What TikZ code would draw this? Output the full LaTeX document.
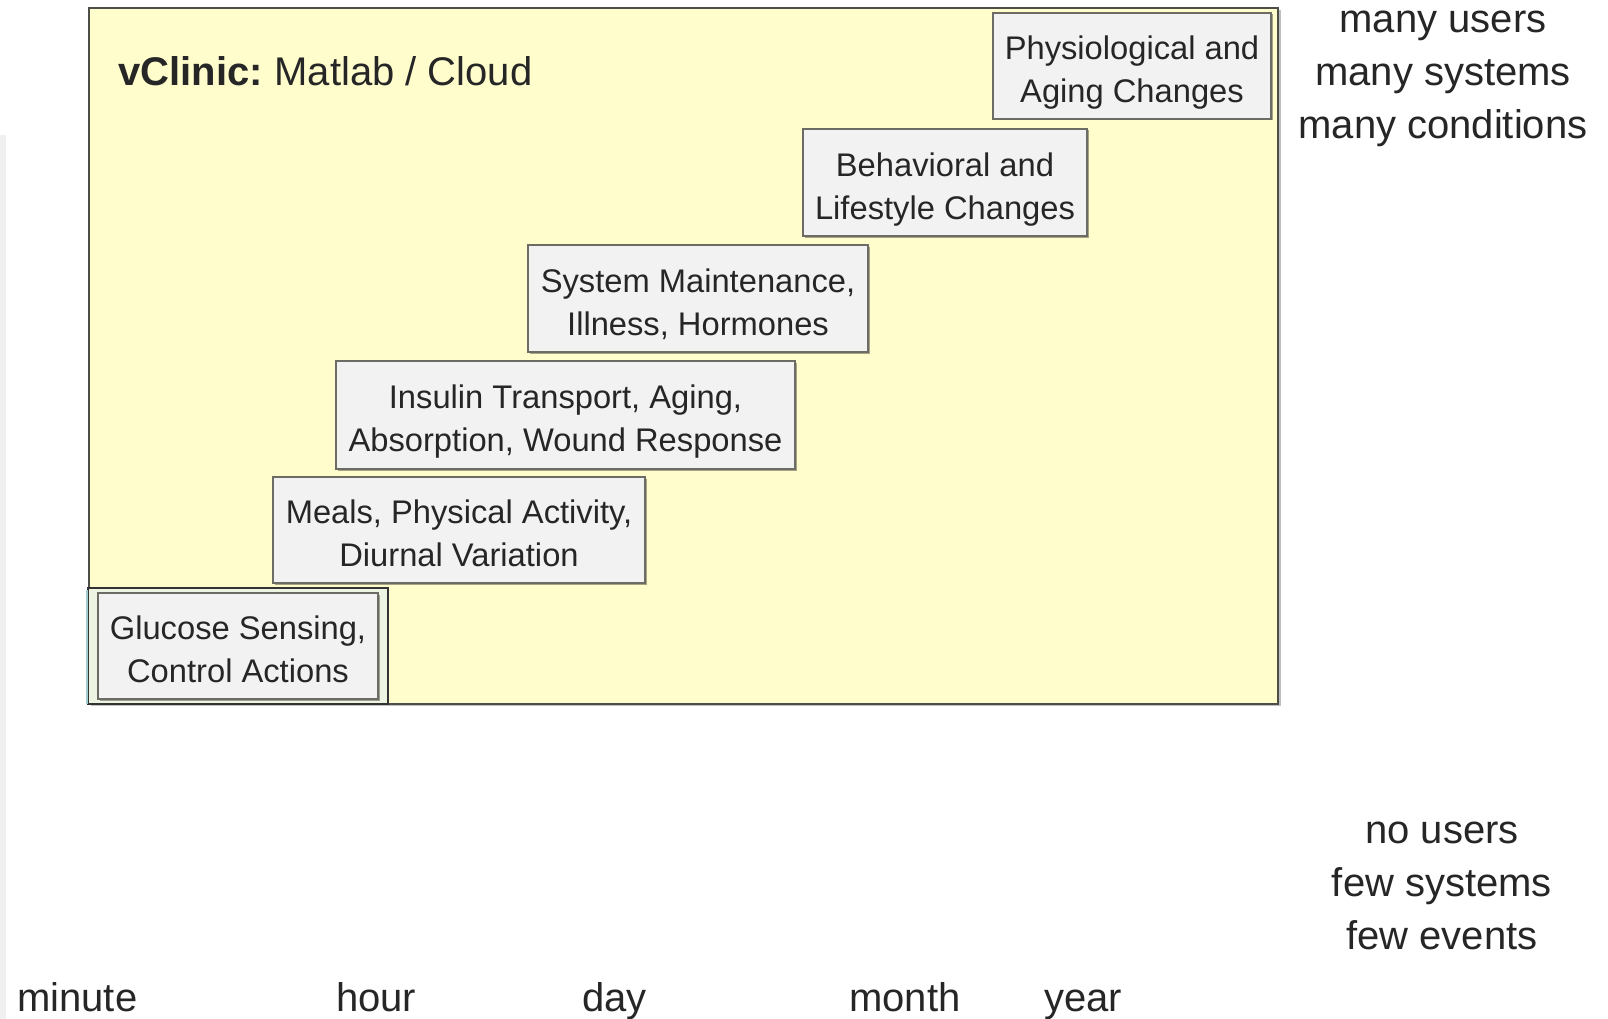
\documentclass[tikz,border=0pt]{standalone}
\usepackage{fontspec}
\setmainfont{Liberation Sans}
\usetikzlibrary{shadows}
\definecolor{paper}{RGB}{255,253,204}
\definecolor{boxfill}{RGB}{242,242,242}
\definecolor{boxline}{RGB}{108,108,100}
\definecolor{frameline}{RGB}{78,78,72}
\definecolor{ink}{RGB}{38,38,38}
\definecolor{strip}{RGB}{240,240,240}
\definecolor{gap}{RGB}{238,244,226}
\definecolor{tealedge}{RGB}{160,205,208}
\begin{document}
\begin{tikzpicture}[x=1pt,y=-1pt,
  stage/.style={draw=boxline, fill=boxfill, line width=2pt, inner sep=0pt,
    align=center, text=ink, font={\fontsize{32.7}{43}\selectfont},
    text height=73pt, text depth=0pt,
    drop shadow={shadow xshift=1.5pt, shadow yshift=-1.5pt, opacity=0.35, fill=black}},
  side/.style={anchor=base, text=ink, inner sep=0pt, font={\fontsize{40}{53}\selectfont}},
  tick/.style={anchor=base west, text=ink, inner sep=0pt, font={\fontsize{40}{53}\selectfont}}]
  % canvas
  \fill[white] (0,0) rectangle (1608,1019);
  \useasboundingbox (0,0) rectangle (1608,1019);
  \fill[strip] (0,135) rectangle (6,1019);

  % vClinic frame
  \fill[black!25] (91,10) rectangle (1281,706);
  \draw[frameline, line width=2.8pt, fill=paper] (89,8) rectangle (1278,704);
  \node[anchor=base west, inner sep=0pt, text=ink, font={\fontsize{40}{50}\selectfont}] (title) at (118,86)
    {\textbf{vClinic:}\hspace{-3pt} Matlab / Cloud};

  % time-scale stages
  \node[stage, minimum width=278pt, minimum height=106pt] (phys) at (1132,66)
    {Physiological and\\Aging Changes};
  \node[stage, minimum width=284pt, minimum height=107pt] (behav) at (945,182.5)
    {Behavioral and\\Lifestyle Changes};
  \node[stage, minimum width=340pt, minimum height=107pt] (maint) at (698,298.5)
    {System Maintenance,\\Illness, Hormones};
  \node[stage, minimum width=459pt, minimum height=108pt] (insulin) at (565.5,415)
    {Insulin Transport, Aging,\\Absorption, Wound Response};
  \node[stage, minimum width=372pt, minimum height=106pt] (meals) at (459,530)
    {Meals, Physical Activity,\\Diurnal Variation};

  % fastest loop, boxed twice
  \draw[draw=black!80, line width=2pt, fill=gap] (88,588) rectangle (388,704);
  \draw[tealedge, line width=1.5pt] (87,590) -- (87,704);
  \node[stage, minimum width=280pt, minimum height=106pt] (glucose) at (238,646)
    {Glucose Sensing,\\Control Actions};

  % scale annotations
  \node[side] (mu) at (1443,33) {many users};
  \node[side] (ms) at (1443,86) {many systems};
  \node[side] (mc) at (1443,139) {many conditions};
  \node[side] (nu) at (1442,843) {no users};
  \node[side] (fs) at (1442,896) {few systems};
  \node[side] (fe) at (1442,949) {few events};

  % time axis labels
  \node[tick] (minute) at (17,1011) {minute};
  \node[tick] (hour) at (336,1011) {hour};
  \node[tick] (day) at (582,1011) {day};
  \node[tick] (month) at (849,1011) {month};
  \node[tick] (year) at (1044,1011) {year};
\end{tikzpicture}
\end{document}
